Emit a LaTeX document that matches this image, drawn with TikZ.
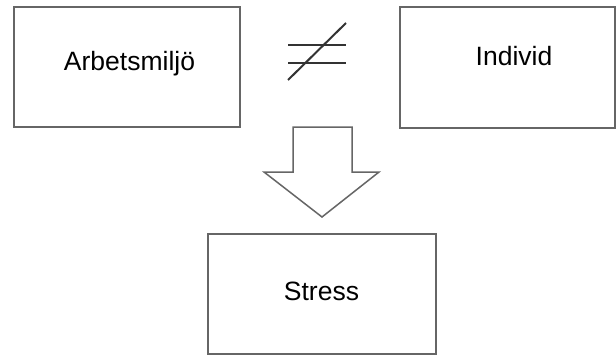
\documentclass[tikz,border=0pt]{standalone}
\usepackage{fontspec}
\setmainfont{Liberation Sans}
\begin{document}
\begin{tikzpicture}[x=1pt,y=-1pt,
  box/.style={draw=black!60,line width=1.5pt,fill=white},
  lbl/.style={font=\fontsize{26.5}{30}\selectfont,anchor=base}]
% canvas
\useasboundingbox (0,0) rectangle (616,356);
\fill[white] (0,0) rectangle (616,356);

% boxes
\draw[box] (14,7) rectangle (240,127);
\draw[box] (400,7) rectangle (615,128);
\draw[box] (208,234) rectangle (436,354);

\node[lbl] (arb) at (129.5,70.5) {Arbetsmiljö};
\node[lbl] (ind) at (514,65) {Individ};
\node[lbl] (str) at (321.5,300) {Stress};

% not-equal sign
\draw[line width=2pt,black!80] (288,45) -- (346,45) (288,63) -- (346,63);
\draw[line width=2pt,black!80] (288,80) -- (346,23);

% block arrow pointing down
\draw[draw=black!60,line width=1.5pt,fill=white,line join=miter]
  (293,127) -- (352,127) -- (352,172) -- (379,172) -- (322,217)
  -- (264,172) -- (293,172) -- cycle;
\end{tikzpicture}
\end{document}
